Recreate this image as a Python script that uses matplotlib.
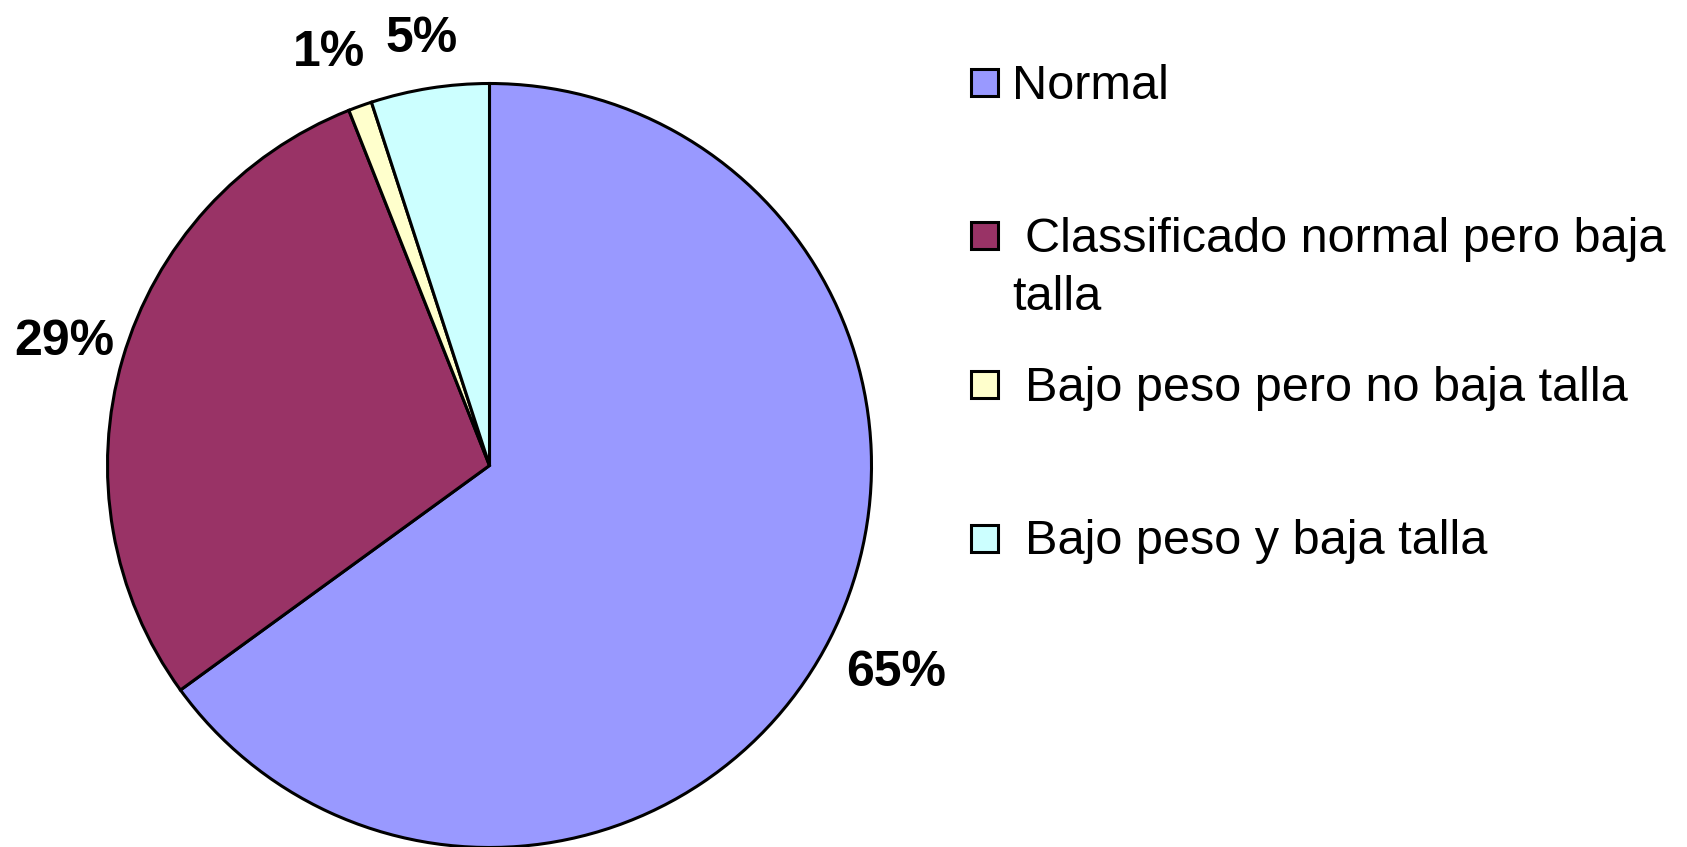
import numpy as np
import matplotlib.pyplot as plt
from matplotlib.patches import Rectangle

labels = ["Normal", "Classificado normal pero baja\ntalla",
          "Bajo peso pero no baja talla", "Bajo peso y baja talla"]
values = [65, 29, 1, 5]
colors = ["#9999FF", "#993366", "#FFFFCC", "#CCFFFF"]

W, H = 1687, 847
fig = plt.figure(figsize=(W / 100, H / 100), dpi=100)
plt.rcParams['font.family'] = ['Liberation Sans', 'DejaVu Sans']

# pie axes: centre (489.5, 465.5) px, radius 382 px
cx, cy, r = 489.5, 465.5, 382
ax = fig.add_axes([(cx - r) / W, (H - cy - r) / H, 2 * r / W, 2 * r / H])
wedges, _, autotexts = ax.pie(values, colors=colors, startangle=90, counterclock=False,
                              autopct='%1.0f%%', pctdistance=1.17,
                              wedgeprops=dict(edgecolor='black', linewidth=2.2))
# label distance / angle shift per slice (as in the original layout)
label_dist = [1.195, 1.16, 1.16, 1.13]
label_shift = [0, 0, 1.5, 0]
for w, t, d, s in zip(wedges, autotexts, label_dist, label_shift):
    ang = np.deg2rad((w.theta1 + w.theta2) / 2 + s)
    t.set_position((d * np.cos(ang), d * np.sin(ang)))
    t.set_fontsize(36)
    t.set_fontweight('bold')
ax.set_xlim(-1, 1)
ax.set_ylim(-1, 1)
ax.set_aspect('equal')
ax.axis('off')

# manual legend (marker aligned with first text line)
marker_y = [83, 236, 385, 538]
text_x = [1012, 1025, 1025, 1025]
sq = 27
for i, (lab, col) in enumerate(zip(labels, colors)):
    my = marker_y[i]
    fig.patches.append(Rectangle((971 / W, 1 - (my + sq / 2) / H), sq / W, sq / H,
                                 transform=fig.transFigure, facecolor=col,
                                 edgecolor='black', linewidth=2.2))
    lines = lab.split("\n")
    for j, line in enumerate(lines):
        x = text_x[i] if j == 0 else 1012
        fig.text(x / W, 1 - (my + 16 + 58 * j) / H, line, fontsize=35,
                 va='baseline', ha='left', color='black')

fig.savefig("out.png", dpi=100)
